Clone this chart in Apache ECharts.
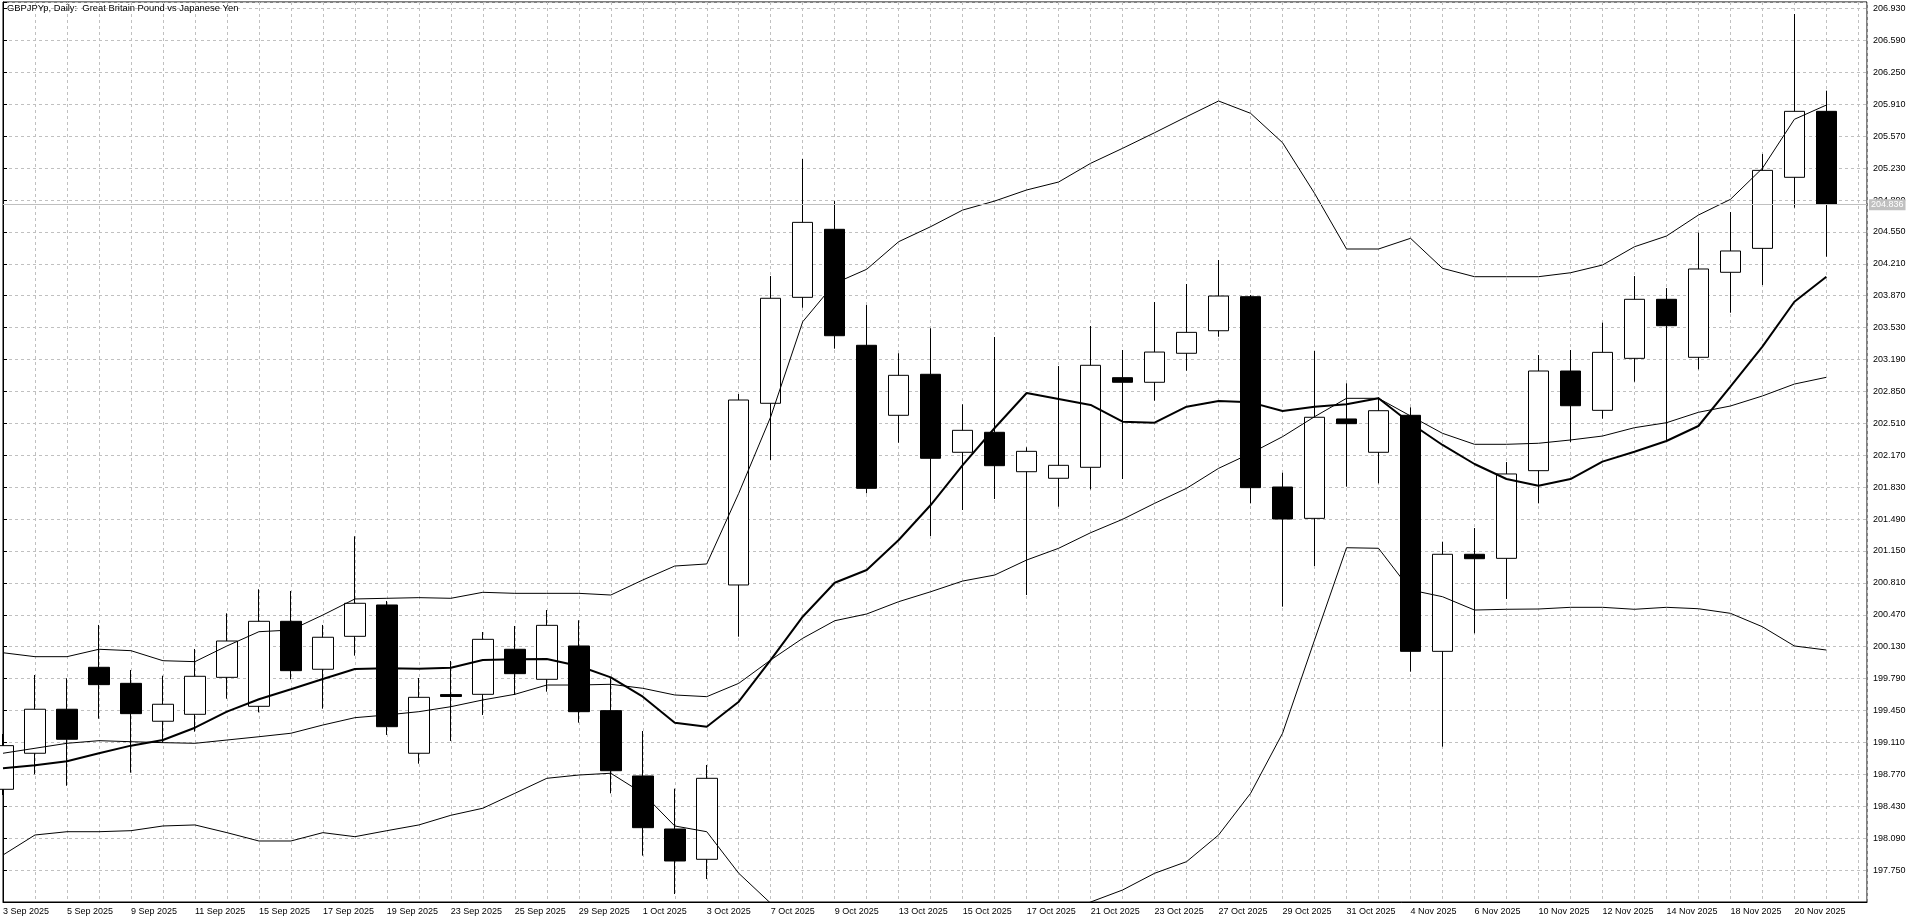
<!DOCTYPE html>
<html>
<head>
<meta charset="utf-8">
<script src="https://cdn.jsdelivr.net/npm/echarts@6/dist/echarts.min.js"></script>
<style>
html,body{margin:0;padding:0;background:#fff;overflow:hidden;}
#c{width:1920px;height:923px;}
</style>
</head>
<body>
<div id="c"></div>
<script>
// ---- data ----
const dates = ['3 Sep 2025','4 Sep 2025','5 Sep 2025','8 Sep 2025','9 Sep 2025','10 Sep 2025','11 Sep 2025','12 Sep 2025',
  '15 Sep 2025','16 Sep 2025','17 Sep 2025','18 Sep 2025','19 Sep 2025','22 Sep 2025','23 Sep 2025','24 Sep 2025',
  '25 Sep 2025','26 Sep 2025','29 Sep 2025','30 Sep 2025','1 Oct 2025','2 Oct 2025','3 Oct 2025','6 Oct 2025',
  '7 Oct 2025','8 Oct 2025','9 Oct 2025','10 Oct 2025','13 Oct 2025','14 Oct 2025','15 Oct 2025','16 Oct 2025',
  '17 Oct 2025','20 Oct 2025','21 Oct 2025','22 Oct 2025','23 Oct 2025','24 Oct 2025','27 Oct 2025','28 Oct 2025',
  '29 Oct 2025','30 Oct 2025','31 Oct 2025','3 Nov 2025','4 Nov 2025','5 Nov 2025','6 Nov 2025','7 Nov 2025',
  '10 Nov 2025','11 Nov 2025','12 Nov 2025','13 Nov 2025','14 Nov 2025','17 Nov 2025','18 Nov 2025','19 Nov 2025',
  '20 Nov 2025','21 Nov 2025'];

const opens = [198.611,198.995,199.464,199.911,199.740,199.336,199.410,199.804,199.495,200.401,199.890,200.241,200.575,198.995,199.620,199.623,
  200.103,199.783,200.138,199.449,198.753,198.188,197.865,200.788,202.724,203.853,204.578,203.342,202.596,203.033,202.202,202.415,
  201.995,201.925,202.042,202.997,202.948,203.257,203.497,203.860,201.832,201.498,202.557,202.202,202.596,200.081,201.115,201.072,
  202.006,203.068,202.649,203.203,203.832,203.214,204.120,204.375,205.132,205.835];
const closes = [199.076,199.464,199.144,199.726,199.417,199.517,199.815,200.191,200.401,199.875,200.231,200.593,199.278,199.591,199.600,200.209,
  199.843,200.358,199.438,198.809,198.202,197.847,198.728,202.759,203.843,204.652,203.444,201.818,203.022,202.138,202.436,202.059,
  202.212,202.063,203.129,202.948,203.270,203.480,203.867,201.825,201.491,202.575,202.507,202.645,200.081,201.115,201.068,201.971,
  203.068,202.698,203.267,203.832,203.551,204.155,204.347,205.206,205.835,204.844];
const lows = [198.550,198.771,198.649,199.363,198.788,199.108,199.225,199.576,199.431,199.783,199.470,200.035,199.190,198.884,199.126,199.403,
  199.616,199.651,199.321,198.568,197.904,197.495,197.655,200.237,202.120,203.742,203.306,201.765,202.304,201.310,201.587,201.704,
  200.681,201.622,201.807,201.917,202.752,203.071,203.433,201.658,200.557,200.990,201.835,201.871,199.864,199.065,200.273,200.639,
  201.658,202.311,202.560,202.954,202.333,203.086,203.689,203.984,204.808,204.286];
const highs = [199.200,199.829,199.794,200.362,199.882,199.821,200.106,200.486,200.742,200.724,200.362,201.307,200.617,199.797,199.978,200.287,
  200.351,200.521,200.412,199.794,199.232,198.618,198.870,202.823,204.080,205.327,204.879,203.771,203.257,203.523,202.713,203.430,
  202.255,203.121,203.547,203.292,203.803,203.995,204.251,203.878,201.984,203.281,202.937,202.788,202.681,201.249,201.395,202.098,
  203.238,203.292,203.583,204.080,203.952,204.542,204.762,205.380,206.872,206.055];

// moving average (thick line)
const maLine = [198.835,198.867,198.909,198.995,199.076,199.136,199.267,199.438,199.570,199.677,199.786,199.893,199.900,199.896,199.907,199.989,
  199.996,199.999,199.925,199.804,199.598,199.321,199.278,199.544,199.989,200.450,200.812,200.948,201.267,201.640,202.066,202.461,
  202.834,202.770,202.706,202.528,202.517,202.688,202.748,202.734,202.642,202.688,202.713,202.777,202.511,202.280,202.077,201.917,
  201.846,201.917,202.102,202.208,202.322,202.482,202.901,203.327,203.806,204.073];
// Bollinger bands (thin lines)
const bbUpper = [200.066,200.024,200.024,200.103,200.088,199.981,199.971,200.138,200.290,200.308,200.468,200.639,200.646,200.653,200.646,200.710,
  200.699,200.699,200.699,200.681,200.841,200.990,201.012,201.765,202.581,203.593,204.002,204.152,204.446,204.606,204.783,204.879,
  204.997,205.082,205.281,205.441,205.607,205.778,205.945,205.814,205.501,204.961,204.368,204.368,204.482,204.162,204.073,204.073,
  204.073,204.115,204.197,204.392,204.506,204.730,204.897,205.228,205.750,205.902];
const bbMiddle = [198.995,199.048,199.101,199.129,199.118,199.108,199.101,199.136,199.171,199.208,199.296,199.374,199.403,199.438,199.491,199.563,
  199.623,199.722,199.722,199.730,199.687,199.616,199.598,199.740,199.989,200.220,200.407,200.479,200.610,200.716,200.830,200.894,
  201.054,201.179,201.345,201.488,201.658,201.818,202.031,202.191,202.368,202.581,202.777,202.777,202.589,202.404,202.287,202.287,
  202.298,202.333,202.375,202.464,202.517,202.628,202.695,202.802,202.929,203.001];
const bbLower = [197.911,198.124,198.159,198.159,198.170,198.220,198.231,198.149,198.060,198.060,198.149,198.106,198.170,198.231,198.334,198.409,
  198.568,198.728,198.763,198.782,198.568,198.220,198.159,197.716,197.396,196.847,196.814,196.806,196.774,196.827,196.877,196.909,
  197.112,197.276,197.410,197.538,197.716,197.840,198.124,198.568,199.208,200.202,201.185,201.179,200.735,200.663,200.521,200.529,
  200.532,200.550,200.550,200.529,200.550,200.535,200.486,200.343,200.138,200.095];

const priceTicks = ['197.750','198.090','198.430','198.770','199.110','199.450','199.790','200.130','200.470','200.810','201.150',
  '201.490','201.830','202.170','202.510','202.850','203.190','203.530','203.870','204.210','204.550','204.890','205.230',
  '205.570','205.910','206.250','206.590','206.930'];
const lastPrice = 204.836;
const titleText = 'GBPJPYp, Daily:  Great Britain Pound vs Japanese Yen';

// ---- chart ----
const FONT = 'Liberation Sans, Arial, sans-serif';
const N = dates.length;
const candleData = dates.map((d, i) => [i, opens[i], closes[i], lows[i], highs[i]]);
const pts = arr => arr.map((v, i) => [i, v]);
const gridDash = {color: '#c0c0c0', width: 1, type: [3, 3]};

const chart = echarts.init(document.getElementById('c'), null, {renderer: 'canvas'});
chart.setOption({
  animation: false,
  backgroundColor: '#fff',
  grid: {left: 2.5, right: 53, top: 2, bottom: 21, show: true, borderColor: '#000', borderWidth: 1},
  graphic: [{
    type: 'text', left: 7, top: 4, z: 100,
    style: {text: titleText, fill: '#000', font: '9.4px ' + FONT}
  }],
  xAxis: {
    type: 'value', min: 0, max: 58.27, interval: 1,
    axisLine: {show: true, onZero: false, lineStyle: {color: '#000', width: 1}},
    axisTick: {show: false},
    splitLine: {show: true, lineStyle: gridDash},
    axisLabel: {
      color: '#000', fontFamily: FONT, fontSize: 9, align: 'left', margin: 5,
      formatter: v => (Number.isInteger(v) && v % 2 === 0 && v < N) ? dates[v] : ''
    }
  },
  yAxis: {
    type: 'value', position: 'right', min: 197.41, max: 207.0, interval: 0.34,
    axisLine: {show: true, lineStyle: {color: '#000', width: 1}},
    axisTick: {show: true, length: 4, lineStyle: {color: '#000'}},
    splitLine: {show: true, lineStyle: gridDash},
    axisLabel: {
      color: '#000', fontFamily: FONT, fontSize: 9, margin: 6, align: 'left',
      formatter: v => { const s = v.toFixed(3); return priceTicks.includes(s) ? s : ''; }
    }
  },
  series: [
    {
      type: 'candlestick', name: 'GBPJPYp', data: candleData,
      encode: {x: 0, y: [1, 2, 3, 4]},
      barWidth: 21, z: 2,
      itemStyle: {color: '#fff', color0: '#000', borderColor: '#000', borderColor0: '#000', borderWidth: 1},
      markLine: {
        silent: true, symbol: 'none', animation: false,
        lineStyle: {color: '#c0c0c0', type: 'solid', width: 1},
        label: {show: true, position: 'end', distance: 2, formatter: lastPrice.toFixed(3),
          backgroundColor: '#c0c0c0', color: '#fff', padding: [1, 2, 1, 2], fontFamily: FONT, fontSize: 9},
        data: [{yAxis: lastPrice}]
      }
    },
    {type: 'line', name: 'BB upper', data: pts(bbUpper), showSymbol: false, z: 3, lineStyle: {color: '#000', width: 1}},
    {type: 'line', name: 'BB middle', data: pts(bbMiddle), showSymbol: false, z: 3, lineStyle: {color: '#000', width: 1}},
    {type: 'line', name: 'BB lower', data: pts(bbLower), showSymbol: false, z: 3, lineStyle: {color: '#000', width: 1}},
    {type: 'line', name: 'MA', data: pts(maLine), showSymbol: false, z: 4, lineStyle: {color: '#000', width: 2}}
  ]
});
</script>
</body>
</html>
